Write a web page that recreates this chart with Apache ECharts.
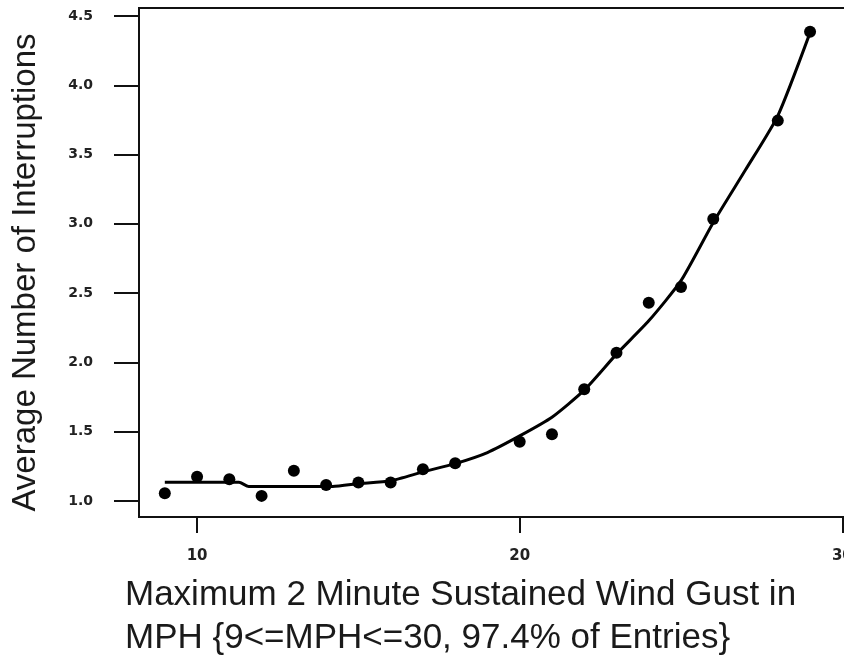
<!DOCTYPE html>
<html>
<head>
<meta charset="utf-8">
<script src="https://cdn.jsdelivr.net/npm/echarts@6/dist/echarts.min.js"></script>
<style>
html,body{margin:0;padding:0;background:#fff;}
#chart{width:844px;height:658px;}
</style>
</head>
<body>
<div id="chart"></div>
<script>
// Observed points: wind gust (MPH) vs average number of interruptions
const windMph = [9, 10, 11, 12, 13, 14, 15, 16, 17, 18, 20, 21, 22, 23, 24, 25, 26, 28, 29];
const avgInterruptions = [1.056, 1.175, 1.157, 1.037, 1.218, 1.115, 1.134, 1.134, 1.23, 1.272, 1.428, 1.481, 1.806, 2.07, 2.43, 2.545, 3.035, 3.745, 4.386];

// Fitted (smoothed) curve
const fitMph = [9, 11.3, 11.6, 14.2, 15, 16, 17, 18, 19, 20, 21, 22, 23, 24, 25, 26, 27, 28, 29];
const fitValues = [1.135, 1.135, 1.105, 1.105, 1.125, 1.146, 1.21, 1.27, 1.35, 1.47, 1.605, 1.80, 2.06, 2.30, 2.59, 3.01, 3.39, 3.78, 4.38];

// Tick labels
const xTickValues = [10, 20, 30];
const yTickValues = [1.0, 1.5, 2.0, 2.5, 3.0, 3.5, 4.0, 4.5];

const yTitle = 'Average Number of Interruptions';
const xTitle = 'Maximum 2 Minute Sustained Wind Gust in\nMPH {9<=MPH<=30, 97.4% of Entries}';

const chart = echarts.init(document.getElementById('chart'), null, {renderer: 'canvas'});
const ink = '#111';

chart.setOption({
  backgroundColor: '#fff',
  animation: false,
  grid: {
    show: true, borderColor: ink, borderWidth: 2,
    left: 139, top: 8, width: 713, height: 509,
    containLabel: false, outerBoundsMode: 'none'
  },
  xAxis: {
    type: 'value', min: 8.2, max: 30.3,
    axisLine: {show: true, onZero: false, lineStyle: {color: ink, width: 2}},
    axisTick: {show: true, length: 16, customValues: xTickValues, lineStyle: {color: ink, width: 2}},
    axisLabel: {
      customValues: xTickValues, margin: 32, color: '#222',
      fontFamily: 'DejaVu Sans', fontWeight: 'bold', fontSize: 15,
      formatter: v => String(v)
    },
    splitLine: {show: false}
  },
  yAxis: {
    type: 'value', min: 0.8846, max: 4.5577,
    name: yTitle, nameLocation: 'middle', nameGap: 97,
    nameTextStyle: {fontFamily: 'Liberation Sans', fontSize: 33, color: '#1a1a1a', padding: [0, 20, 0, 0]},
    axisLine: {show: true, onZero: false, lineStyle: {color: ink, width: 2}},
    axisTick: {show: true, length: 25, customValues: yTickValues, lineStyle: {color: ink, width: 2}},
    axisLabel: {
      customValues: yTickValues, margin: 46, color: '#222',
      fontFamily: 'DejaVu Sans', fontWeight: 'bold', fontSize: 14,
      formatter: v => v.toFixed(1)
    },
    splitLine: {show: false}
  },
  graphic: [{
    type: 'text', x: 125, y: 574, silent: true,
    style: {
      text: xTitle, fill: '#1a1a1a',
      font: '35px "Liberation Sans", Arial, sans-serif',
      lineHeight: 43, verticalAlign: 'top', align: 'left'
    }
  }],
  series: [
    {
      type: 'line', name: 'fit', silent: true, z: 2,
      data: fitMph.map((x, i) => [x, fitValues[i]]),
      symbol: 'none', smooth: 0.2,
      lineStyle: {color: '#000', width: 3}
    },
    {
      type: 'scatter', name: 'observed', silent: true, z: 3,
      data: windMph.map((x, i) => [x, avgInterruptions[i]]),
      symbol: 'circle', symbolSize: 12,
      itemStyle: {color: '#000', opacity: 1}
    }
  ]
});
</script>
</body>
</html>
